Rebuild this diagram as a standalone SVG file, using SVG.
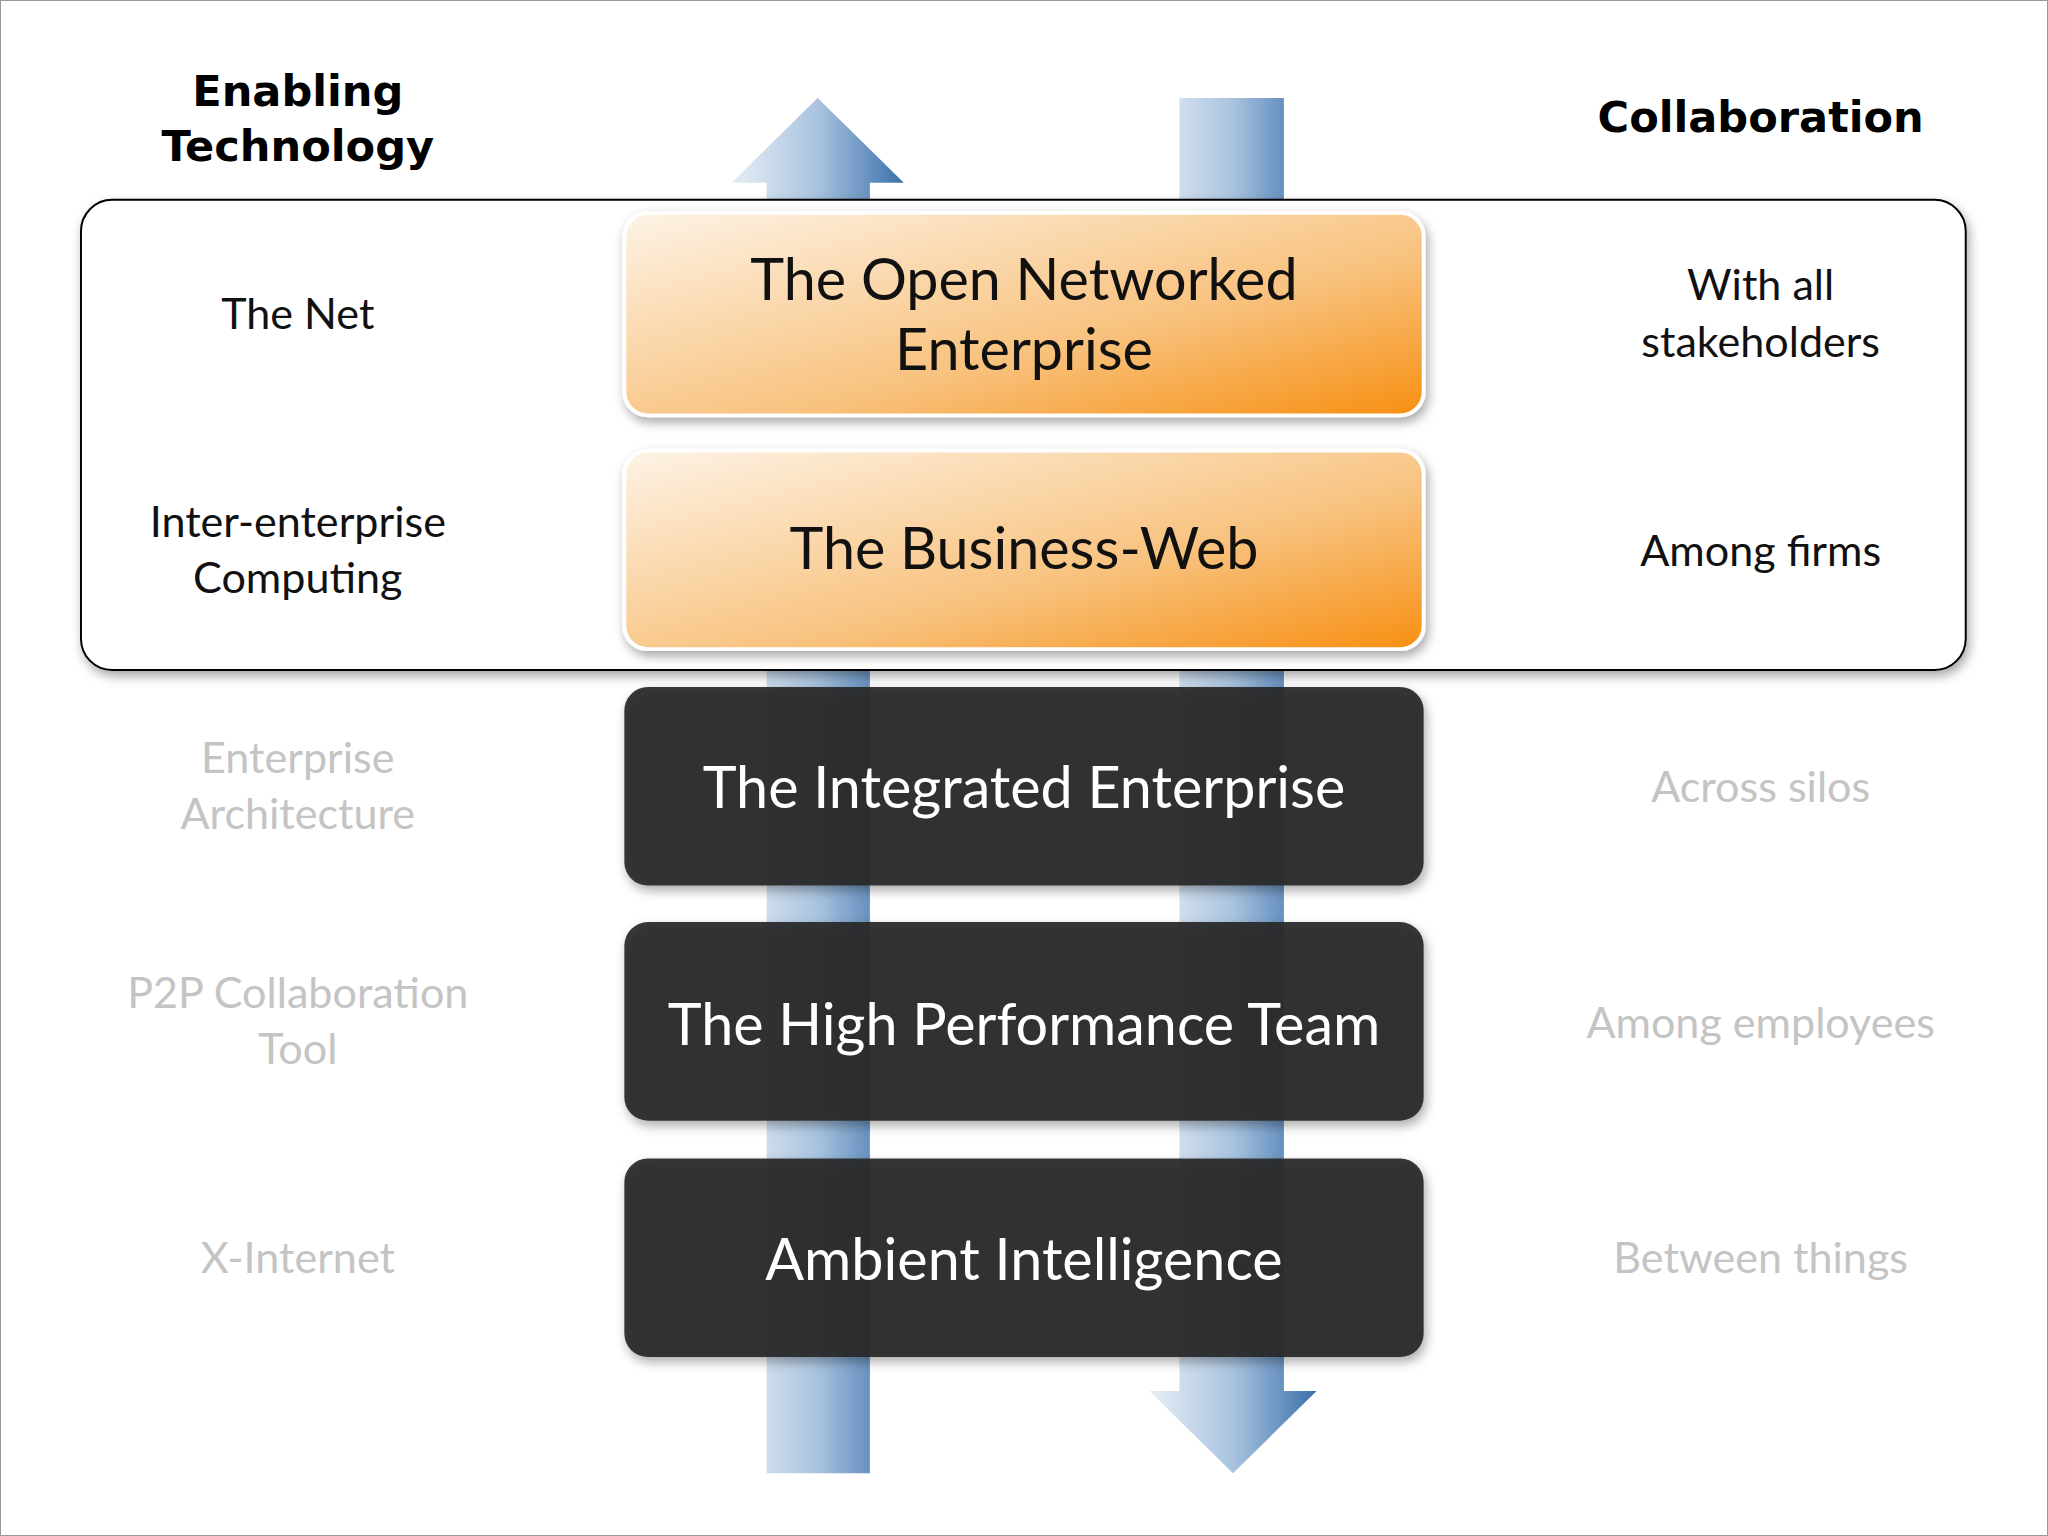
<svg xmlns="http://www.w3.org/2000/svg" width="2048" height="1536" viewBox="0 0 2048 1536">
<defs>
<linearGradient id="ag" x1="0" y1="0" x2="1" y2="0"><stop offset="0" stop-color="#e6eef6"/><stop offset="0.5" stop-color="#a9c3df"/><stop offset="1" stop-color="#3a70ab"/></linearGradient>
<linearGradient id="og" x1="0" y1="0" x2="1" y2="1"><stop offset="0" stop-color="#fdf3e6"/><stop offset="0.6" stop-color="#f8c27e"/><stop offset="1" stop-color="#f78f12"/></linearGradient>
<filter id="sh" x="-5%" y="-10%" width="110%" height="125%"><feDropShadow dx="2" dy="4" stdDeviation="4" flood-color="#000" flood-opacity="0.35"/></filter>
<style>
text{font-family:"Lato","Open Sans","DejaVu Sans",sans-serif;text-anchor:middle}
.h{font-family:"DejaVu Sans",sans-serif;font-weight:bold;font-size:33px;fill:#000}
.l{font-size:33px;fill:#111}
.g{font-size:33px;fill:#c4c4c4}
.bt{font-size:44px;fill:#111}
.wt{font-size:44px;fill:#fff}
.ob{fill:url(#og);stroke:#fff;stroke-width:3;filter:url(#sh)}
.db{fill:#2a2a2a;fill-opacity:0.93;filter:url(#sh)}
</style>
</defs>
<rect x="0" y="0" width="2048" height="1536" fill="#fff" stroke="#999" stroke-width="2"/>
<g transform="scale(1.30612)">
<g id="connectors">
<path id="up" d="M587,1128 L587,140 L560,140 L626,75 L692,140 L666,140 L666,1128 Z" fill="url(#ag)"/>
<path id="down" d="M903,75 L983,75 L983,1065 L1008,1065 L944,1128 L880,1065 L903,1065 Z" fill="url(#ag)"/>
</g>
<g id="frame"><rect x="62" y="153" width="1443" height="360" rx="24" fill="#fff" stroke="#000" stroke-width="1.5" filter="url(#sh)"/></g>
<g id="hdr"><text class="h" x="228" y="81">Enabling</text><text class="h" x="228" y="123">Technology</text><text class="h" x="1348" y="101">Collaboration</text></g>
<g id="n1"><rect class="ob" x="478" y="163" width="612" height="155" rx="18"/><text class="bt" x="784" y="230">The Open Networked</text><text class="bt" x="784" y="283">Enterprise</text><text class="l" x="228" y="252">The Net</text><text class="l" x="1348" y="230">With all</text><text class="l" x="1348" y="273">stakeholders</text></g>
<g id="n2"><rect class="ob" x="478" y="345" width="612" height="152" rx="18"/><text class="bt" x="784" y="436">The Business-Web</text><text class="l" x="228" y="411">Inter-enterprise</text><text class="l" x="228" y="454">Computing</text><text class="l" x="1348" y="433">Among firms</text></g>
<g id="n3"><rect class="db" x="478" y="526" width="612" height="152" rx="18"/><text class="wt" x="784" y="619">The Integrated Enterprise</text><text class="g" x="228" y="592">Enterprise</text><text class="g" x="228" y="635">Architecture</text><text class="g" x="1348" y="614">Across silos</text></g>
<g id="n4"><rect class="db" x="478" y="706" width="612" height="152" rx="18"/><text class="wt" x="784" y="800">The High Performance Team</text><text class="g" x="228" y="772">P2P Collaboration</text><text class="g" x="228" y="815">Tool</text><text class="g" x="1348" y="795">Among employees</text></g>
<g id="n5"><rect class="db" x="478" y="887" width="612" height="152" rx="18"/><text class="wt" x="784" y="980">Ambient Intelligence</text><text class="g" x="228" y="975">X-Internet</text><text class="g" x="1348" y="975">Between things</text></g>
</g>
</svg>
